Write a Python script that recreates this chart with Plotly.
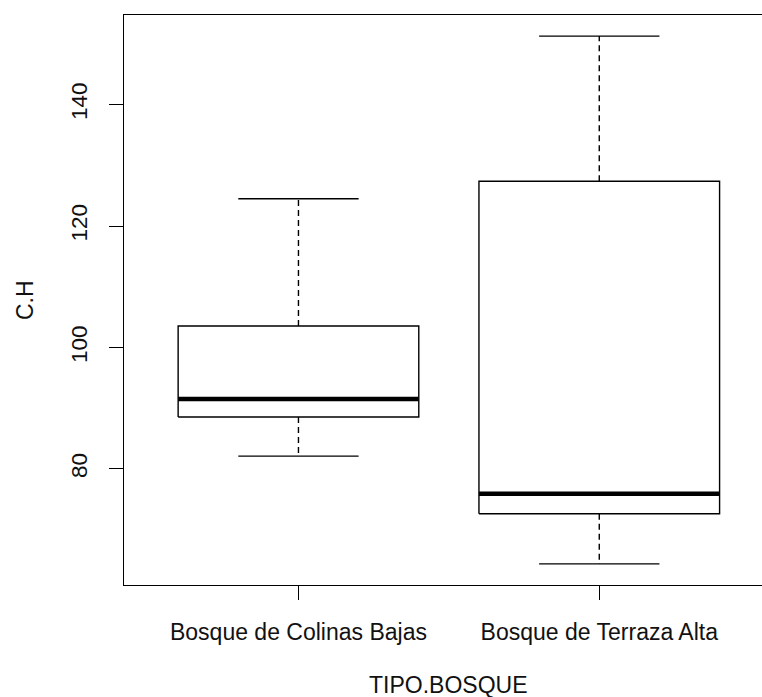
import plotly.graph_objects as go

# Data
categories = ["Bosque de Colinas Bajas", "Bosque de Terraza Alta"]
lower_whisker = [82.1, 64.35]
q1 = [88.56, 72.6]
median = [91.5, 75.9]
q3 = [103.55, 127.4]
upper_whisker = [124.5, 151.3]
y_ticks = [80, 100, 120, 140]

FONT = "Liberation Sans, Arial, sans-serif"
BOX_HALF = 0.4
CAP_HALF = 0.2

fig = go.Figure()
for i, cat in enumerate(categories):
    x = i + 1
    # box
    fig.add_trace(go.Scatter(
        x=[x - BOX_HALF, x + BOX_HALF, x + BOX_HALF, x - BOX_HALF, x - BOX_HALF],
        y=[q1[i], q1[i], q3[i], q3[i], q1[i]],
        mode="lines", line=dict(color="black", width=1.4),
        hoverinfo="skip", showlegend=False))
    # whiskers (dashed)
    fig.add_trace(go.Scatter(
        x=[x, x, None, x, x],
        y=[q3[i], upper_whisker[i], None, q1[i], lower_whisker[i]],
        mode="lines", line=dict(color="black", width=1.4, dash="6px,4px"),
        hoverinfo="skip", showlegend=False))
    # caps
    fig.add_trace(go.Scatter(
        x=[x - CAP_HALF, x + CAP_HALF, None, x - CAP_HALF, x + CAP_HALF],
        y=[upper_whisker[i], upper_whisker[i], None, lower_whisker[i], lower_whisker[i]],
        mode="lines", line=dict(color="black", width=1.4),
        hoverinfo="skip", showlegend=False))
    # median
    fig.add_trace(go.Scatter(
        x=[x - BOX_HALF, x + BOX_HALF],
        y=[median[i], median[i]],
        mode="lines", line=dict(color="black", width=4.5),
        hoverinfo="skip", showlegend=False))

ymin = min(lower_whisker)
ymax = max(upper_whisker)
pad = 0.04 * (ymax - ymin)

fig.update_layout(
    width=762, height=697,
    margin=dict(l=124, r=0, t=15, b=112),
    paper_bgcolor="white", plot_bgcolor="white",
    font=dict(family=FONT, size=23, color="#111111"),
    xaxis=dict(
        range=[0.42, 2.541],
        tickvals=[1, 2], ticktext=categories,
        showgrid=False, zeroline=False,
        showline=True, linecolor="black", linewidth=1.4, mirror=True,
        ticks="outside", ticklen=14, tickwidth=1.4, tickcolor="black",
        tickfont=dict(size=23), ticklabelstandoff=12,
    ),
    yaxis=dict(
        range=[ymin - pad, ymax + pad],
        tickvals=y_ticks,
        showgrid=False, zeroline=False,
        showline=True, linecolor="black", linewidth=1.4, mirror=False,
        ticks="outside", ticklen=14, tickwidth=1.4, tickcolor="black",
        tickfont=dict(size=22.5), tickangle=-90, ticklabelstandoff=13,
    ),
    annotations=[
        dict(text="TIPO.BOSQUE", xref="paper", yref="paper",
             x=0.508, y=-0.176, xanchor="center", yanchor="middle",
             showarrow=False, font=dict(size=23)),
        dict(text="C.H", xref="paper", yref="paper",
             x=-0.155, y=0.5, xanchor="center", yanchor="middle",
             textangle=-90, showarrow=False, font=dict(size=23)),
    ],
)

fig.write_html(
    "out.html",
    config={"displayModeBar": False},
    post_script="document.body.style.margin='0';document.body.style.overflow='hidden';",
)
